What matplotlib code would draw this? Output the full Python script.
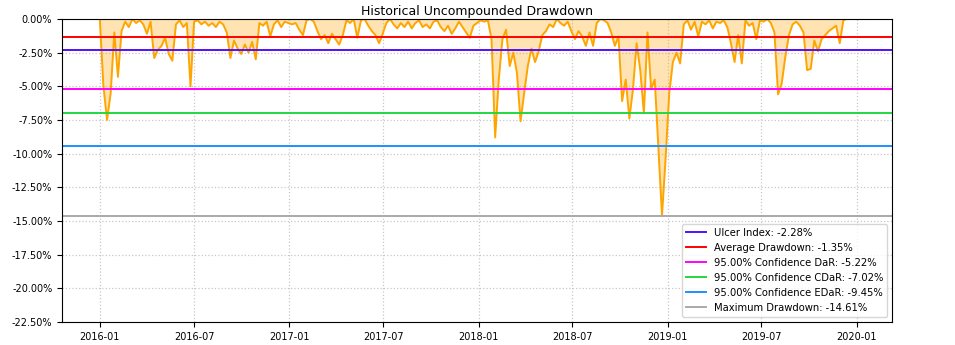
import numpy as np
import pandas as pd
import matplotlib
matplotlib.use("Agg")
import matplotlib.pyplot as plt
import matplotlib.dates as mdates
import matplotlib.ticker as mticker

# weekly uncompounded drawdown, in percent
start_date = "2016-01-01"
drawdown = [
    0.0, -5.0, -7.5, -5.5, -1.0, -4.3, -0.9, -0.2, -0.6, 0.0,
    -0.3, -0.1, -0.4, -1.1, -0.2, -2.9, -2.3, -2.0, -1.4, -2.6,
    -3.1, -0.4, -0.1, -0.6, -0.3, -5.0, -0.2, -0.1, -0.4, -0.2,
    -0.5, -0.3, -0.6, -0.2, -0.4, -1.0, -2.9, -1.6, -2.2, -2.6,
    -1.9, -2.5, -1.7, -3.0, -0.3, -0.5, -0.2, -1.3, -0.4, -0.1,
    -0.6, -0.2, -0.3, -0.4, -0.3, -0.8, -1.2, -0.1, 0.0, -0.2,
    -0.9, -1.5, -1.2, -1.8, -1.1, -1.5, -1.9, -1.2, -0.1, -0.3,
    0.0, -1.4, -0.1, 0.0, -0.5, -0.9, -1.2, -1.8, -1.1, -0.3,
    0.0, -0.4, -0.7, -0.3, -0.6, -0.2, -0.7, -0.3, -0.1, -0.6,
    -0.4, -0.7, -0.2, -0.1, -0.6, -0.9, -0.5, -1.1, -0.7, -0.2,
    -0.6, -1.0, -1.4, -0.5, -0.3, -0.1, -0.2, -0.1, -1.5, -8.8,
    -4.5, -1.5, -0.8, -3.5, -2.5, -4.0, -7.6, -5.5, -3.5, -2.2,
    -3.2, -2.4, -1.2, -0.9, -0.4, -0.6, 0.0, -0.3, -0.5, -0.2,
    -0.9, -1.5, -0.9, -1.3, -2.0, -1.0, -2.0, -0.3, 0.0, -0.1,
    -0.3, -1.0, -2.0, -1.3, -6.1, -4.5, -7.4, -5.2, -1.8, -3.8,
    -7.0, -1.0, -5.2, -4.5, -9.5, -14.61, -10.3, -5.5, -3.2, -2.5,
    -3.3, -0.4, -0.1, -0.8, -0.2, -1.3, -0.2, -0.4, -0.1, -0.7,
    -0.2, -0.3, -0.1, -0.6, -1.8, -3.2, -1.2, -3.3, -0.1, -0.5,
    -0.3, -1.5, -0.1, -0.2, 0.0, -0.3, -1.0, -5.6, -4.8, -2.8,
    -1.2, -0.4, -0.2, -0.5, -1.0, -3.8, -3.7, -1.6, -2.4, -1.5,
    -1.2, -0.9, -0.7, -0.5, -1.8, -0.1, 0.0, 0.0, 0.0,
]

risk_names = ["Ulcer Index", "Average Drawdown", "95.00% Confidence DaR",
              "95.00% Confidence CDaR", "95.00% Confidence EDaR",
              "Maximum Drawdown"]
risk_values = [-2.28, -1.35, -5.22, -7.02, -9.45, -14.61]
risk_colors = ["#5010ff", "#ff0000", "#ff00ff", "#20d840", "#1e90ff", "#a9a9a9"]

dates = pd.date_range(start_date, periods=len(drawdown), freq="7D")
dd = np.array(drawdown)

fig = plt.figure(figsize=(9.55, 3.45), dpi=100)
ax = fig.add_axes([0.065, 0.067, 0.869, 0.878])

ax.plot(dates, dd, color="orange", linewidth=1.4)
ax.fill_between(dates, 0, dd, color="orange", alpha=0.3, linewidth=0)

for name, val, col in zip(risk_names, risk_values, risk_colors):
    ax.axhline(val, color=col, linewidth=1.4,
               label=name + ": " + "{:.2f}%".format(val))

ax.set_ylim(-22.5, 0)
ax.yaxis.set_major_locator(mticker.MultipleLocator(2.5))
ax.yaxis.set_major_formatter(mticker.FuncFormatter(lambda v, p: "{:.2f}%".format(v)))
ax.xaxis.set_major_locator(mdates.MonthLocator(bymonth=[1, 7]))
ax.xaxis.set_major_formatter(mdates.DateFormatter("%Y-%m"))
ax.tick_params(labelsize=7)
ax.grid(linestyle=":", color="#c8c8c8", linewidth=0.9)
ax.set_axisbelow(True)

ax.set_title("Historical Uncompounded Drawdown", fontsize=9, pad=3)
ax.legend(loc="lower right", fontsize=7.2)

fig.savefig("out.png", dpi=100)
